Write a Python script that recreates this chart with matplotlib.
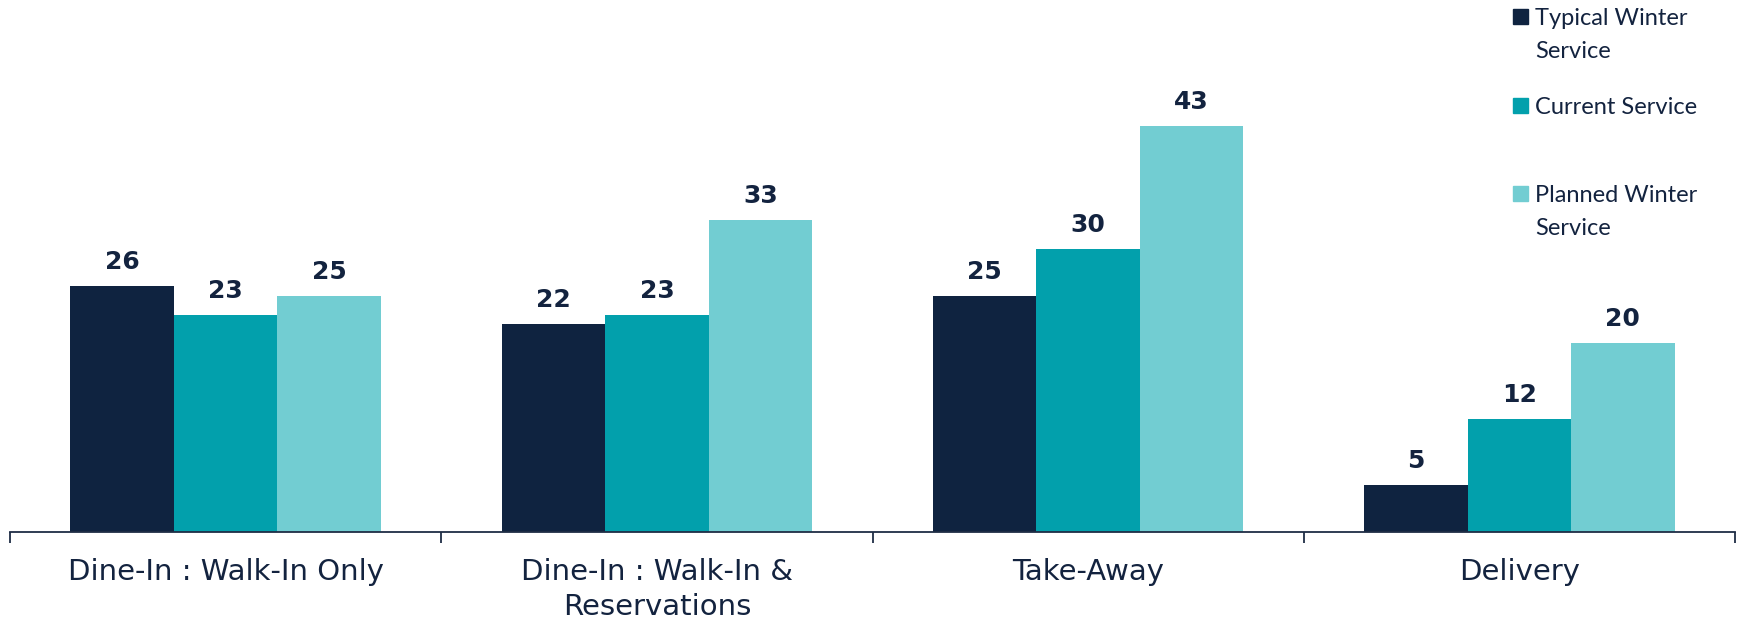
import matplotlib
matplotlib.use("Agg")
import matplotlib.pyplot as plt
import numpy as np
from matplotlib.patches import Rectangle

categories = ["Dine-In : Walk-In Only", "Dine-In : Walk-In &\nReservations", "Take-Away", "Delivery"]
series_names = ["Typical Winter\nService", "Current Service", "Planned Winter\nService"]
typical_winter = [26, 22, 25, 5]
current_service = [23, 23, 30, 12]
planned_winter = [25, 33, 43, 20]

colors = ["#0F2340", "#02A0AC", "#72CDD2"]
text_color = "#13233F"

W, H = 1737, 619
fig = plt.figure(figsize=(W / 100, H / 100), dpi=100)
ax = fig.add_axes([10 / W, (H - 532) / H, 1725 / W, 532 / H])

x = np.arange(len(categories))
bw = 0.24
for i, vals in enumerate([typical_winter, current_service, planned_winter]):
    pos = x + (i - 1) * bw
    ax.bar(pos, vals, width=bw, color=colors[i], zorder=2)
    for px, v in zip(pos, vals):
        ax.annotate(f"{v}", (px, v), xytext=(0, 8.5), textcoords="offset points",
                    ha="center", va="bottom", fontsize=18, fontweight="bold",
                    color=text_color)

ax.set_xlim(-0.5, len(categories) - 0.5)
ax.set_ylim(0, 532 / 9.45)

for side in ["top", "right", "left"]:
    ax.spines[side].set_visible(False)
ax.spines["bottom"].set_color("#1F2D45")
ax.spines["bottom"].set_linewidth(1.3)
ax.set_yticks([])

# boundary ticks between groups, labels centred under each group
ax.set_xticks(np.arange(len(categories) + 1) - 0.5)
ax.set_xticklabels([])
ax.tick_params(axis="x", which="major", direction="out", length=8, width=1.3, color="#1F2D45")
ax.set_xticks(x, minor=True)
ax.set_xticklabels(categories, minor=True, fontsize=21, color=text_color, linespacing=1.3)
ax.tick_params(axis="x", which="minor", length=0, pad=19)

# legend drawn on the figure
legend_rows = [17, 106, 194]
for name, col, y in zip(series_names, colors, legend_rows):
    fig.patches.append(Rectangle((1513 / W, 1 - (y + 7) / H), 15 / W, 15 / H,
                                 transform=fig.transFigure, color=col))
    fig.text(1535 / W, 1 - (y - 9) / H, name, fontsize=17, family="Lato",
             color=text_color, va="top", ha="left", linespacing=1.68)

fig.savefig("out.png", dpi=100)
